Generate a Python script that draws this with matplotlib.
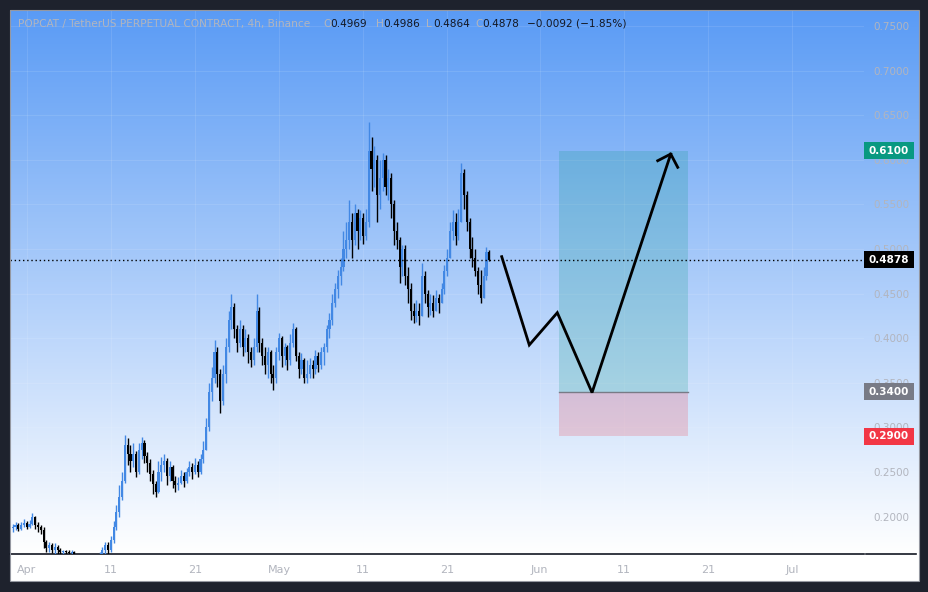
import numpy as np
import matplotlib
matplotlib.use("Agg")
import matplotlib.pyplot as plt
from matplotlib.patches import Rectangle
from matplotlib.lines import Line2D
from matplotlib.transforms import blended_transform_factory

W, H = 929, 592

# ---- data (day 0 = Apr 1, 8h candles) ----
first_day = -5 / 3
first_open = 0.187
closes = [
    0.188, 0.190, 0.186,  0.190, 0.193, 0.188,  0.192, 0.200, 0.190,  0.188, 0.185, 0.172,
    0.165, 0.168, 0.163,  0.166, 0.162, 0.160,  0.161, 0.160, 0.159,  0.160, 0.156, 0.152,
    0.149, 0.146, 0.148,  0.147, 0.150, 0.152,  0.153, 0.157, 0.162,  0.168, 0.162, 0.174,
    0.188, 0.205, 0.222,  0.240, 0.280, 0.270,  0.262, 0.270, 0.250,  0.275, 0.282, 0.268,
    0.260, 0.248, 0.236,  0.228, 0.250, 0.258,  0.262, 0.245, 0.255,  0.240, 0.235, 0.238,
    0.245, 0.240, 0.250,  0.255, 0.250, 0.258,  0.250, 0.265, 0.275,  0.300, 0.340, 0.355,
    0.385, 0.360, 0.330,  0.360, 0.390, 0.420,  0.435, 0.410, 0.395,  0.410, 0.390, 0.400,
    0.385, 0.375, 0.390,  0.430, 0.395, 0.380,  0.370, 0.385, 0.360,  0.355, 0.385, 0.400,
    0.380, 0.390, 0.375,  0.395, 0.410, 0.380,  0.365, 0.375, 0.355,  0.360, 0.370, 0.365,
    0.380, 0.370, 0.385,  0.390, 0.410, 0.420,  0.440, 0.455, 0.470,  0.480, 0.500, 0.510,
    0.530, 0.510, 0.540,  0.520, 0.535, 0.515,  0.530, 0.610, 0.590,  0.600, 0.560, 0.580,
    0.600, 0.570, 0.580,  0.550, 0.520, 0.510,  0.480, 0.500, 0.470,  0.455, 0.430, 0.425,
    0.430, 0.425, 0.470,  0.450, 0.435, 0.440,  0.430, 0.445, 0.440,  0.455, 0.475, 0.490,
    0.520, 0.530, 0.515,  0.530, 0.585, 0.560,  0.530, 0.500, 0.490,  0.475, 0.460, 0.445,
    0.470, 0.4969, 0.4878,
]
highs = [
    0.192, 0.194, 0.193,  0.194, 0.197, 0.195,  0.196, 0.204, 0.201,  0.194, 0.191, 0.188,
    0.174, 0.172, 0.170,  0.170, 0.168, 0.165,  0.163, 0.163, 0.162,  0.162, 0.161, 0.158,
    0.155, 0.152, 0.151,  0.151, 0.154, 0.155,  0.156, 0.160, 0.166,  0.172, 0.171, 0.178,
    0.195, 0.213, 0.235,  0.250, 0.291, 0.288,  0.280, 0.282, 0.273,  0.283, 0.289, 0.286,
    0.272, 0.265, 0.252,  0.240, 0.262, 0.267,  0.270, 0.266, 0.262,  0.258, 0.245, 0.244,
    0.252, 0.250, 0.254,  0.262, 0.260, 0.266,  0.262, 0.270, 0.285,  0.310, 0.350, 0.368,
    0.398, 0.390, 0.365,  0.370, 0.400, 0.430,  0.450, 0.440, 0.415,  0.420, 0.415, 0.410,
    0.405, 0.390, 0.400,  0.450, 0.435, 0.400,  0.390, 0.390, 0.387,  0.370, 0.390, 0.406,
    0.402, 0.395, 0.392,  0.405, 0.417, 0.412,  0.385, 0.383, 0.378,  0.376, 0.378, 0.375,
    0.387, 0.385, 0.390,  0.395, 0.415, 0.428,  0.450, 0.462, 0.476,  0.490, 0.520, 0.530,
    0.555, 0.540, 0.550,  0.545, 0.544, 0.540,  0.545, 0.642, 0.626,  0.615, 0.605, 0.600,
    0.608, 0.605, 0.590,  0.585, 0.555, 0.530,  0.513, 0.505, 0.505,  0.480, 0.462, 0.440,
    0.443, 0.440, 0.484,  0.475, 0.454, 0.450,  0.448, 0.454, 0.450,  0.462, 0.482, 0.500,
    0.530, 0.544, 0.540,  0.545, 0.596, 0.590,  0.565, 0.535, 0.513,  0.500, 0.480, 0.476,
    0.480, 0.502, 0.4986,
]
lows = [
    0.183, 0.185, 0.184,  0.185, 0.188, 0.186,  0.187, 0.190, 0.186,  0.183, 0.180, 0.165,
    0.160, 0.160, 0.159,  0.158, 0.157, 0.156,  0.156, 0.155, 0.155,  0.154, 0.150, 0.148,
    0.144, 0.142, 0.143,  0.143, 0.145, 0.147,  0.149, 0.151, 0.154,  0.158, 0.157, 0.160,
    0.170, 0.185, 0.200,  0.219, 0.238, 0.258,  0.250, 0.255, 0.244,  0.248, 0.265, 0.260,
    0.250, 0.240, 0.225,  0.222, 0.226, 0.240,  0.250, 0.235, 0.240,  0.232, 0.228, 0.230,
    0.236, 0.233, 0.238,  0.245, 0.242, 0.248,  0.244, 0.248, 0.260,  0.275, 0.296, 0.330,
    0.350, 0.345, 0.316,  0.325, 0.350, 0.385,  0.410, 0.400, 0.385,  0.390, 0.380, 0.385,
    0.372, 0.368, 0.370,  0.385, 0.385, 0.370,  0.360, 0.355, 0.350,  0.342, 0.350, 0.375,
    0.368, 0.370, 0.364,  0.370, 0.390, 0.374,  0.355, 0.360, 0.350,  0.350, 0.355, 0.355,
    0.360, 0.362, 0.365,  0.370, 0.385, 0.400,  0.415, 0.435, 0.445,  0.460, 0.475, 0.490,
    0.500, 0.490, 0.505,  0.500, 0.510, 0.506,  0.510, 0.525, 0.565,  0.570, 0.530, 0.545,
    0.565, 0.560, 0.555,  0.535, 0.505, 0.500,  0.462, 0.470, 0.460,  0.440, 0.420, 0.417,
    0.418, 0.415, 0.425,  0.440, 0.424, 0.426,  0.424, 0.430, 0.428,  0.440, 0.450, 0.470,
    0.490, 0.510, 0.505,  0.510, 0.530, 0.545,  0.520, 0.490, 0.480,  0.470, 0.450, 0.440,
    0.445, 0.465, 0.4864,
]

# projected path drawn by hand (day, price)
proj_days = [56.48, 59.76, 63.09, 67.22, 76.58]
proj_prices = [0.4914, 0.3924, 0.4286, 0.339, 0.6065]
head_days = [75.03, 76.58, 77.41]
head_prices = [0.599, 0.6065, 0.5916]

# long position tool
pos_start, pos_end = 63.26, 78.63
target, entry, stop = 0.61, 0.34, 0.29
last_price = 0.4878

price_ticks = [0.20, 0.25, 0.30, 0.35, 0.40, 0.45, 0.50, 0.55, 0.60, 0.65, 0.70, 0.75]
date_ticks = [0, 10, 20, 30, 40, 50, 61, 71, 81, 91]
date_labels = ["Apr", "11", "21", "May", "11", "21", "Jun", "11", "21", "Jul"]

title = "POPCAT / TetherUS PERPETUAL CONTRACT, 4h, Binance"
ohlc_keys = ["O", "H", "L", "C"]
ohlc_vals = [0.4969, 0.4986, 0.4864, 0.4878]
change, change_pct = -0.0092, -1.85

# ---- figure ----
def fx(px):
    return px / W

def fy(py):
    return 1 - py / H

fig = plt.figure(figsize=(W / 100, H / 100), dpi=100, facecolor="#1e222d")

# time scale strip (under everything)
fig.patches.append(Rectangle((fx(10), fy(581)), fx(919) - fx(10), fy(554) - fy(581),
                             transform=fig.transFigure, facecolor="white", edgecolor="none",
                             zorder=-2))

# gradient background of the chart pane (incl. price scale)
bg = fig.add_axes([fx(10), fy(554), fx(919) - fx(10), fy(10) - fy(554)], zorder=-1)
top = np.array([0x5a, 0x9b, 0xf5]) / 255
bot = np.array([0xff, 0xff, 0xff]) / 255
t = np.linspace(0, 1, 256)[:, None]
grad = top * (1 - t) + bot * t
bg.imshow(grad[:, None, :], aspect="auto", extent=[0, 1, 0, 1])
bg.axis("off")

fig.patches.append(Rectangle((fx(10), fy(581)), fx(919) - fx(10), fy(10) - fy(581),
                             transform=fig.transFigure, fill=False, edgecolor="#9598a1",
                             lw=0.8, zorder=20))
fig.lines.append(Line2D([fx(866), fx(916)], [fy(554), fy(554)], transform=fig.transFigure,
                        color="#131722", lw=1.2))

ax = fig.add_axes([fx(10), fy(554), fx(864) - fx(10), fy(10) - fy(554)])
ax.set_facecolor("none")
ax.set_xlim(-1.99, 99.56)
ax.set_ylim(0.158, 0.768)

for s in ["top", "left", "right"]:
    ax.spines[s].set_visible(False)
ax.spines["bottom"].set_color("#131722")
ax.spines["bottom"].set_linewidth(1.2)

ax.yaxis.tick_right()
ax.set_yticks(price_ticks)
ax.set_yticklabels([f"{p:.4f}" for p in price_ticks])
ax.tick_params(axis="y", length=0, pad=7, labelsize=7.5, labelcolor="#b2b5be")
ax.set_xticks(date_ticks)
ax.set_xticklabels(date_labels)
ax.tick_params(axis="x", length=0, pad=8, labelsize=8, labelcolor="#b2b5be")
ax.grid(color="white", alpha=0.1, lw=0.8)
ax.set_axisbelow(True)

# candles
closes = np.array(closes)
opens = np.concatenate([[first_open], closes[:-1]])
highs = np.array(highs)
lows = np.array(lows)
days = first_day + np.arange(len(closes)) / 3
up = closes >= opens
cols = np.where(up, "#4288e4", "#000000")
ax.vlines(days, lows, highs, colors=cols, lw=1.0, zorder=3)
body_lo = np.minimum(opens, closes)
body_h = np.maximum(np.abs(closes - opens), 0.0015)
ax.bar(days, body_h, bottom=body_lo, width=0.25, color=cols, linewidth=0, zorder=3)

# last price line
ax.axhline(last_price, color="black", lw=1, ls=(0, (1, 2)), zorder=4)

# position tool
ax.add_patch(Rectangle((pos_start, entry), pos_end - pos_start, target - entry,
                       facecolor=(8 / 255, 153 / 255, 129 / 255, 0.2), edgecolor="none", zorder=2))
ax.add_patch(Rectangle((pos_start, stop), pos_end - pos_start, entry - stop,
                       facecolor=(242 / 255, 54 / 255, 69 / 255, 0.2), edgecolor="none", zorder=2))
ax.plot([pos_start, pos_end], [entry, entry], color="#787b86", lw=1, zorder=2)

# projected path
ax.plot(proj_days, proj_prices, color="black", lw=2, zorder=5, solid_joinstyle="miter")
ax.plot(head_days, head_prices, color="black", lw=2, zorder=5)

# price scale labels
trans = blended_transform_factory(fig.transFigure, ax.transData)
for p, c in [(target, "#089981"), (last_price, "#000000"), (entry, "#787b86"), (stop, "#f23645")]:
    ax.add_patch(Rectangle((fx(864), p - 0.0095), fx(914) - fx(864), 0.019, transform=trans,
                           facecolor=c, edgecolor="none", clip_on=False, zorder=10))
    ax.text(fx(889), p, f"{p:.4f}", transform=trans, ha="center", va="center",
            color="white", fontsize=7.5, fontweight="bold", zorder=11, clip_on=False)

# legend line at the top
fig.text(fx(18), fy(24), title, color="#b2b5be", fontsize=7.6, va="center")
key_x = [323, 376, 426, 475]
for k, v, x in zip(ohlc_keys, ohlc_vals, key_x):
    fig.text(fx(x), fy(24), k, color="#b2b5be", fontsize=7.6, va="center")
    fig.text(fx(x + 7), fy(24), f"{v:.4f}", color="#131722", fontsize=7.6, va="center")
fig.text(fx(527), fy(24), f"\u2212{abs(change):.4f} (\u2212{abs(change_pct):.2f}%)",
         color="#131722", fontsize=7.6, va="center")

fig.savefig("out.png", dpi=100, facecolor=fig.get_facecolor())
